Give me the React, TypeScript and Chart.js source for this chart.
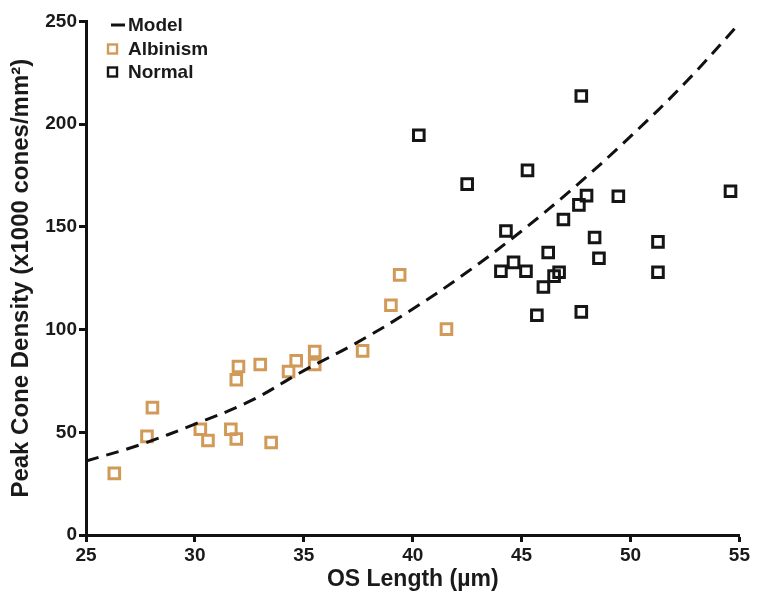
import React, { useEffect, useRef } from "react";
import { Chart, registerables } from "chart.js";

Chart.register(...registerables);

const modelX = [25, 27.5, 30, 32.5, 35, 37.5, 40, 42.5, 45, 47.5, 50, 52.5, 55];
const modelY = [36, 44, 54, 65, 80, 94, 110, 128, 148, 170, 194, 220, 249];

const albinismX = [26.3, 27.8, 28.05, 30.25, 30.6, 31.65, 31.9, 31.9, 32.0, 33.0, 33.5, 34.3, 34.65, 35.5, 35.5, 37.7, 39.0, 39.4, 41.55];
const albinismY = [30, 48, 62, 51.5, 46, 51.5, 46.7, 75.6, 82, 83, 45, 79.6, 84.8, 89.3, 83, 89.6, 111.8, 126.6, 100.2];

const normalX = [47.74, 40.28, 45.27, 42.5, 54.59, 47.98, 49.44, 47.63, 46.92, 44.28, 48.35, 51.26, 46.22, 48.55, 44.63, 44.05, 45.2, 46.72, 46.49, 51.26, 46.0, 45.7, 47.74];
const normalY = [213.7, 194.6, 177.5, 170.8, 167.3, 165.2, 164.9, 160.7, 153.6, 148.0, 144.8, 142.7, 137.5, 134.7, 132.7, 128.4, 128.4, 127.9, 126.0, 127.9, 120.7, 107.0, 108.6];

const xTicks = [25, 30, 35, 40, 45, 50, 55];
const yTicks = [0, 50, 100, 150, 200, 250];

const legendLabels = ["Model", "Albinism", "Normal"];

const ALB = "#d19a58";
const NORM = "#151515";
const FONT = "'Liberation Sans', Arial, Helvetica, sans-serif";

const zip = (xs: number[], ys: number[]) => xs.map((x, i) => ({ x, y: ys[i] }));

const legendPlugin = {
  id: "customLegend",
  afterDraw(chart: any) {
    const ctx = chart.ctx;
    ctx.save();
    ctx.font = `bold 19px ${FONT}`;
    ctx.textBaseline = "middle";
    ctx.fillStyle = "#1a1a1a";
    const rows = [17, 41, 64];
    ctx.strokeStyle = "#111";
    ctx.lineWidth = 3;
    ctx.beginPath();
    ctx.moveTo(103, rows[0]);
    ctx.lineTo(117, rows[0]);
    ctx.stroke();
    ctx.lineWidth = 2.4;
    ctx.strokeStyle = ALB;
    ctx.strokeRect(100, rows[1] - 4.5, 9, 9);
    ctx.strokeStyle = NORM;
    ctx.strokeRect(100, rows[2] - 4.5, 9, 9);
    ctx.fillText(legendLabels[0], 120, rows[0] + 1);
    ctx.fillText(legendLabels[1], 120, rows[1] + 1);
    ctx.fillText(legendLabels[2], 120, rows[2] + 1);
    ctx.restore();
  },
};

export default function App() {
  const ref = useRef<HTMLCanvasElement | null>(null);
  useEffect(() => {
    if (!ref.current) return;
    const chart = new Chart(ref.current, {
      type: "scatter",
      data: {
        datasets: [
          {
            label: legendLabels[0],
            data: zip(modelX, modelY),
            showLine: true,
            borderColor: "#111",
            borderWidth: 3,
            borderDash: [13, 8],
            pointRadius: 0,
            tension: 0.4,
            fill: false,
          } as any,
          {
            label: legendLabels[1],
            data: zip(albinismX, albinismY),
            pointStyle: "rect",
            pointRadius: 7.5,
            pointBorderWidth: 3,
            borderColor: ALB,
            backgroundColor: "rgba(255,255,255,0)",
            clip: false,
          },
          {
            label: legendLabels[2],
            data: zip(normalX, normalY),
            pointStyle: "rect",
            pointRadius: 7.5,
            pointBorderWidth: 3,
            borderColor: NORM,
            backgroundColor: "rgba(255,255,255,0)",
            clip: false,
          },
        ],
      },
      options: {
        animation: false,
        responsive: false,
        maintainAspectRatio: false,
        layout: { padding: { top: 9, right: 9, left: 0, bottom: 0 } },
        plugins: { legend: { display: false }, tooltip: { enabled: false } },
        scales: {
          x: {
            type: "linear",
            min: 25,
            max: 55,
            afterFit: (s: any) => {
              s.height = 56;
            },
            afterBuildTicks: (s: any) => {
              s.ticks = xTicks.map((v) => ({ value: v }));
            },
            ticks: {
              color: "#1a1a1a",
              font: { family: FONT, size: 19, weight: "bold" },
              padding: 2,
              maxRotation: 0,
            },
            grid: {
              display: true,
              drawOnChartArea: false,
              drawTicks: true,
              tickLength: 7,
              tickWidth: 3,
              tickColor: "#111",
            },
            border: { display: true, color: "#111", width: 3 },
            title: {
              display: true,
              text: "OS Length (µm)",
              color: "#1a1a1a",
              font: { family: FONT, size: 23, weight: "bold", lineHeight: 1.0 },
              padding: 0,
            },
          },
          y: {
            type: "linear",
            min: 0,
            max: 250,
            afterFit: (s: any) => {
              s.width = 78;
            },
            afterBuildTicks: (s: any) => {
              s.ticks = yTicks.map((v) => ({ value: v }));
            },
            ticks: {
              color: "#1a1a1a",
              font: { family: FONT, size: 19, weight: "bold" },
              padding: 2,
            },
            grid: {
              display: true,
              drawOnChartArea: false,
              drawTicks: true,
              tickLength: 7,
              tickWidth: 3,
              tickColor: "#111",
            },
            border: { display: true, color: "#111", width: 3 },
            title: {
              display: true,
              text: "Peak Cone Density (x1000 cones/mm²)",
              color: "#1a1a1a",
              font: { family: FONT, size: 24, weight: "bold", lineHeight: 1.1 },
              padding: 0,
            },
          },
        },
      },
      plugins: [legendPlugin],
    });
    return () => chart.destroy();
  }, []);
  return (
    <div style={{ width: 744, height: 583 }}>
      <canvas ref={ref} width={744} height={583} style={{ display: "block", width: 744, height: 583 }} />
    </div>
  );
}
